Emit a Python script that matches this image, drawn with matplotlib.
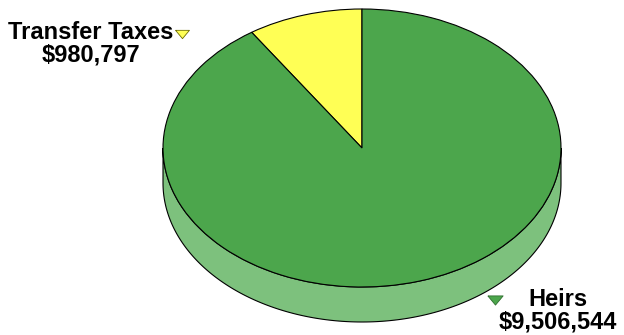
import numpy as np
import matplotlib
matplotlib.use('Agg')
import matplotlib.pyplot as plt
from matplotlib.patches import Polygon

labels = ['Transfer Taxes', 'Heirs']
amounts = [980797, 9506544]
top_colors = ['#ffff55', '#4ca64c']
side_colors = ['#c8c850', '#7dc17d']

W, H = 624, 335
cx, cy = 362, 148      # centre of the top face, pixels from top-left
rx, ry = 199, 139      # ellipse radii, pixels
depth = 35             # thickness of the disc, pixels

fig = plt.figure(figsize=(W / 100, H / 100), dpi=100)
ax = fig.add_axes([0, 0, 1, 1])

# side wall of the disc (front half only is visible)
d = depth / ry
t = np.linspace(np.pi, 2 * np.pi, 200)
upper = np.column_stack([np.cos(t), np.sin(t)])
lower = np.column_stack([np.cos(t), np.sin(t) - d])[::-1]
ax.add_patch(Polygon(np.vstack([upper, lower]), closed=True,
                     facecolor=side_colors[1], edgecolor='black', lw=0.8, zorder=1))

wedges, _ = ax.pie(amounts, colors=top_colors, startangle=90, counterclock=True,
                   radius=1, center=(0, 0), frame=True,
                   wedgeprops=dict(edgecolor='black', linewidth=0.8))
for w in wedges:
    w.set_zorder(2)
ax.set_xlim(-cx / rx, (W - cx) / rx)
ax.set_ylim(-(H - cy) / ry, cy / ry)
ax.set_aspect('auto')
ax.axis('off')


def px(x, y):
    return x / W, 1 - y / H


font = dict(family=['Liberation Sans', 'DejaVu Sans'], fontweight='bold',
            fontsize=17, ha='center', va='center', linespacing=0.95)

# flat downward triangle used as legend-style marker next to each label
tri = [(-1, 0.6), (1, 0.6), (0, -0.6), (-1, 0.6)]

label_pos = [(91, 44), (558, 311)]
marker_pos = [(182, 34), (495, 300)]
marker_sizes = [10, 11]
marker_edges = ['#6e6e00', '#2f6e2f']
for lab, amt, lp, mp, ms, c, ec in zip(labels, amounts, label_pos, marker_pos,
                                       marker_sizes, top_colors, marker_edges):
    fig.text(*px(*lp), f'{lab}\n${amt:,}', **font)
    fig.add_artist(plt.Line2D([px(*mp)[0]], [px(*mp)[1]], marker=tri,
                              markersize=ms, markerfacecolor=c,
                              markeredgecolor=ec, markeredgewidth=0.6,
                              transform=fig.transFigure))

fig.savefig('out.png', dpi=100)
